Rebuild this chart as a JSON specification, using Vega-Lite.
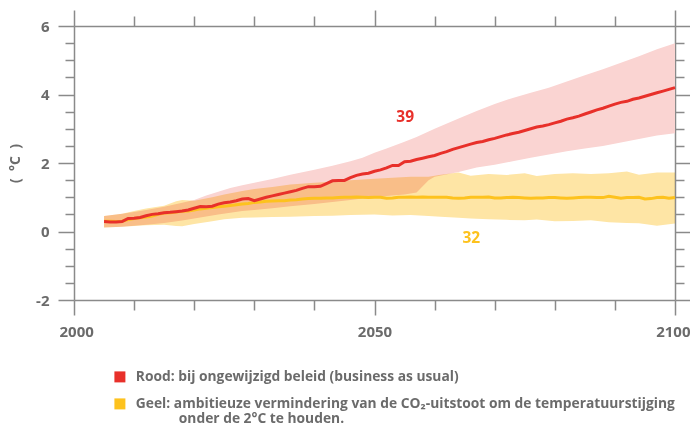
{
  "$schema": "https://vega.github.io/schema/vega-lite/v6.json",
  "width": 601,
  "height": 274,
  "autosize": "none",
  "padding": {"left": 74, "top": 26, "right": 15, "bottom": 125},
  "background": "white",
  "config": {
    "view": {"stroke": null},
    "font": "Open Sans",
    "axis": {
      "domainColor": "#8a8a8a", "domainWidth": 1.5,
      "tickColor": "#8a8a8a", "tickWidth": 1.5,
      "labelColor": "#6b6b6b", "labelFont": "Open Sans", "labelFontWeight": "bold", "labelFontSize": 15,
      "titleColor": "#6b6b6b", "titleFont": "Open Sans", "titleFontWeight": "bold", "titleFontSize": 14,
      "grid": false, "labelOverlap": false, "labelFlush": false
    }
  },
  "datasets": {
    "redLine": [
      {"year":2005,"temp":0.29,"series":"Rood"},{"year":2006,"temp":0.28,"series":"Rood"},{"year":2007,"temp":0.28,"series":"Rood"},{"year":2008,"temp":0.29,"series":"Rood"},
      {"year":2009,"temp":0.38,"series":"Rood"},{"year":2010,"temp":0.39,"series":"Rood"},{"year":2011,"temp":0.41,"series":"Rood"},{"year":2012,"temp":0.46,"series":"Rood"},
      {"year":2013,"temp":0.5,"series":"Rood"},{"year":2014,"temp":0.52,"series":"Rood"},{"year":2015,"temp":0.55,"series":"Rood"},{"year":2016,"temp":0.56,"series":"Rood"},
      {"year":2017,"temp":0.58,"series":"Rood"},{"year":2018,"temp":0.6,"series":"Rood"},{"year":2019,"temp":0.63,"series":"Rood"},{"year":2020,"temp":0.68,"series":"Rood"},
      {"year":2021,"temp":0.73,"series":"Rood"},{"year":2022,"temp":0.72,"series":"Rood"},{"year":2023,"temp":0.74,"series":"Rood"},{"year":2024,"temp":0.8,"series":"Rood"},
      {"year":2025,"temp":0.84,"series":"Rood"},{"year":2026,"temp":0.86,"series":"Rood"},{"year":2027,"temp":0.9,"series":"Rood"},{"year":2028,"temp":0.95,"series":"Rood"},
      {"year":2029,"temp":0.96,"series":"Rood"},{"year":2030,"temp":0.9,"series":"Rood"},{"year":2031,"temp":0.95,"series":"Rood"},{"year":2032,"temp":1.0,"series":"Rood"},
      {"year":2033,"temp":1.04,"series":"Rood"},{"year":2034,"temp":1.08,"series":"Rood"},{"year":2035,"temp":1.12,"series":"Rood"},{"year":2036,"temp":1.16,"series":"Rood"},
      {"year":2037,"temp":1.2,"series":"Rood"},{"year":2038,"temp":1.26,"series":"Rood"},{"year":2039,"temp":1.31,"series":"Rood"},{"year":2040,"temp":1.31,"series":"Rood"},
      {"year":2041,"temp":1.32,"series":"Rood"},{"year":2042,"temp":1.4,"series":"Rood"},{"year":2043,"temp":1.48,"series":"Rood"},{"year":2044,"temp":1.49,"series":"Rood"},
      {"year":2045,"temp":1.49,"series":"Rood"},{"year":2046,"temp":1.57,"series":"Rood"},{"year":2047,"temp":1.64,"series":"Rood"},{"year":2048,"temp":1.68,"series":"Rood"},
      {"year":2049,"temp":1.7,"series":"Rood"},{"year":2050,"temp":1.76,"series":"Rood"},{"year":2051,"temp":1.8,"series":"Rood"},{"year":2052,"temp":1.86,"series":"Rood"},
      {"year":2053,"temp":1.93,"series":"Rood"},{"year":2054,"temp":1.93,"series":"Rood"},{"year":2055,"temp":2.04,"series":"Rood"},{"year":2056,"temp":2.05,"series":"Rood"},
      {"year":2057,"temp":2.1,"series":"Rood"},{"year":2058,"temp":2.14,"series":"Rood"},{"year":2059,"temp":2.18,"series":"Rood"},{"year":2060,"temp":2.22,"series":"Rood"},
      {"year":2061,"temp":2.28,"series":"Rood"},{"year":2062,"temp":2.33,"series":"Rood"},{"year":2063,"temp":2.4,"series":"Rood"},{"year":2064,"temp":2.45,"series":"Rood"},
      {"year":2065,"temp":2.5,"series":"Rood"},{"year":2066,"temp":2.55,"series":"Rood"},{"year":2067,"temp":2.6,"series":"Rood"},{"year":2068,"temp":2.63,"series":"Rood"},
      {"year":2069,"temp":2.68,"series":"Rood"},{"year":2070,"temp":2.72,"series":"Rood"},{"year":2071,"temp":2.77,"series":"Rood"},{"year":2072,"temp":2.82,"series":"Rood"},
      {"year":2073,"temp":2.86,"series":"Rood"},{"year":2074,"temp":2.9,"series":"Rood"},{"year":2075,"temp":2.95,"series":"Rood"},{"year":2076,"temp":3.0,"series":"Rood"},
      {"year":2077,"temp":3.05,"series":"Rood"},{"year":2078,"temp":3.08,"series":"Rood"},{"year":2079,"temp":3.12,"series":"Rood"},{"year":2080,"temp":3.17,"series":"Rood"},
      {"year":2081,"temp":3.22,"series":"Rood"},{"year":2082,"temp":3.28,"series":"Rood"},{"year":2083,"temp":3.32,"series":"Rood"},{"year":2084,"temp":3.37,"series":"Rood"},
      {"year":2085,"temp":3.43,"series":"Rood"},{"year":2086,"temp":3.49,"series":"Rood"},{"year":2087,"temp":3.55,"series":"Rood"},{"year":2088,"temp":3.6,"series":"Rood"},
      {"year":2089,"temp":3.66,"series":"Rood"},{"year":2090,"temp":3.72,"series":"Rood"},{"year":2091,"temp":3.77,"series":"Rood"},{"year":2092,"temp":3.8,"series":"Rood"},
      {"year":2093,"temp":3.86,"series":"Rood"},{"year":2094,"temp":3.9,"series":"Rood"},{"year":2095,"temp":3.95,"series":"Rood"},{"year":2096,"temp":4.0,"series":"Rood"},
      {"year":2097,"temp":4.05,"series":"Rood"},{"year":2098,"temp":4.1,"series":"Rood"},{"year":2099,"temp":4.15,"series":"Rood"},{"year":2100,"temp":4.2,"series":"Rood"}
    ],
    "yellowLine": [
      {"year":2005,"temp":0.3,"series":"Geel"},{"year":2006,"temp":0.3,"series":"Geel"},{"year":2007,"temp":0.29,"series":"Geel"},{"year":2008,"temp":0.3,"series":"Geel"},
      {"year":2009,"temp":0.35,"series":"Geel"},{"year":2010,"temp":0.38,"series":"Geel"},{"year":2011,"temp":0.4,"series":"Geel"},{"year":2012,"temp":0.42,"series":"Geel"},
      {"year":2013,"temp":0.45,"series":"Geel"},{"year":2014,"temp":0.5,"series":"Geel"},{"year":2015,"temp":0.54,"series":"Geel"},{"year":2016,"temp":0.55,"series":"Geel"},
      {"year":2017,"temp":0.57,"series":"Geel"},{"year":2018,"temp":0.59,"series":"Geel"},{"year":2019,"temp":0.6,"series":"Geel"},{"year":2020,"temp":0.63,"series":"Geel"},
      {"year":2021,"temp":0.66,"series":"Geel"},{"year":2022,"temp":0.68,"series":"Geel"},{"year":2023,"temp":0.7,"series":"Geel"},{"year":2024,"temp":0.72,"series":"Geel"},
      {"year":2025,"temp":0.74,"series":"Geel"},{"year":2026,"temp":0.76,"series":"Geel"},{"year":2027,"temp":0.78,"series":"Geel"},{"year":2028,"temp":0.8,"series":"Geel"},
      {"year":2029,"temp":0.82,"series":"Geel"},{"year":2030,"temp":0.85,"series":"Geel"},{"year":2031,"temp":0.86,"series":"Geel"},{"year":2032,"temp":0.88,"series":"Geel"},
      {"year":2033,"temp":0.89,"series":"Geel"},{"year":2034,"temp":0.9,"series":"Geel"},{"year":2035,"temp":0.9,"series":"Geel"},{"year":2036,"temp":0.92,"series":"Geel"},
      {"year":2037,"temp":0.93,"series":"Geel"},{"year":2038,"temp":0.95,"series":"Geel"},{"year":2039,"temp":0.96,"series":"Geel"},{"year":2040,"temp":0.97,"series":"Geel"},
      {"year":2041,"temp":0.97,"series":"Geel"},{"year":2042,"temp":0.98,"series":"Geel"},{"year":2043,"temp":0.98,"series":"Geel"},{"year":2044,"temp":0.99,"series":"Geel"},
      {"year":2045,"temp":1.0,"series":"Geel"},{"year":2046,"temp":1.0,"series":"Geel"},{"year":2047,"temp":1.01,"series":"Geel"},{"year":2048,"temp":1.0,"series":"Geel"},
      {"year":2049,"temp":0.99,"series":"Geel"},{"year":2050,"temp":1.0,"series":"Geel"},{"year":2051,"temp":1.0,"series":"Geel"},{"year":2052,"temp":0.97,"series":"Geel"},
      {"year":2053,"temp":0.98,"series":"Geel"},{"year":2054,"temp":1.0,"series":"Geel"},{"year":2055,"temp":1.0,"series":"Geel"},{"year":2056,"temp":1.01,"series":"Geel"},
      {"year":2057,"temp":1.0,"series":"Geel"},{"year":2058,"temp":1.01,"series":"Geel"},{"year":2059,"temp":1.0,"series":"Geel"},{"year":2060,"temp":1.0,"series":"Geel"},
      {"year":2061,"temp":1.0,"series":"Geel"},{"year":2062,"temp":1.0,"series":"Geel"},{"year":2063,"temp":0.98,"series":"Geel"},{"year":2064,"temp":0.97,"series":"Geel"},
      {"year":2065,"temp":0.98,"series":"Geel"},{"year":2066,"temp":1.0,"series":"Geel"},{"year":2067,"temp":1.0,"series":"Geel"},{"year":2068,"temp":1.0,"series":"Geel"},
      {"year":2069,"temp":1.01,"series":"Geel"},{"year":2070,"temp":0.98,"series":"Geel"},{"year":2071,"temp":0.98,"series":"Geel"},{"year":2072,"temp":0.99,"series":"Geel"},
      {"year":2073,"temp":1.0,"series":"Geel"},{"year":2074,"temp":0.99,"series":"Geel"},{"year":2075,"temp":0.98,"series":"Geel"},{"year":2076,"temp":0.97,"series":"Geel"},
      {"year":2077,"temp":0.98,"series":"Geel"},{"year":2078,"temp":0.98,"series":"Geel"},{"year":2079,"temp":0.99,"series":"Geel"},{"year":2080,"temp":0.99,"series":"Geel"},
      {"year":2081,"temp":0.98,"series":"Geel"},{"year":2082,"temp":0.97,"series":"Geel"},{"year":2083,"temp":0.98,"series":"Geel"},{"year":2084,"temp":0.99,"series":"Geel"},
      {"year":2085,"temp":1.0,"series":"Geel"},{"year":2086,"temp":1.0,"series":"Geel"},{"year":2087,"temp":0.99,"series":"Geel"},{"year":2088,"temp":0.99,"series":"Geel"},
      {"year":2089,"temp":1.03,"series":"Geel"},{"year":2090,"temp":1.0,"series":"Geel"},{"year":2091,"temp":0.97,"series":"Geel"},{"year":2092,"temp":0.99,"series":"Geel"},
      {"year":2093,"temp":0.99,"series":"Geel"},{"year":2094,"temp":1.0,"series":"Geel"},{"year":2095,"temp":0.95,"series":"Geel"},{"year":2096,"temp":0.96,"series":"Geel"},
      {"year":2097,"temp":0.99,"series":"Geel"},{"year":2098,"temp":1.0,"series":"Geel"},{"year":2099,"temp":0.97,"series":"Geel"},{"year":2100,"temp":0.99,"series":"Geel"}
    ],
    "redBand": [
      {"year":2005,"lo":0.12,"hi":0.45},{"year":2008,"lo":0.14,"hi":0.52},{"year":2010,"lo":0.17,"hi":0.57},{"year":2012,"lo":0.2,"hi":0.63},
      {"year":2015,"lo":0.25,"hi":0.72},{"year":2018,"lo":0.32,"hi":0.84},{"year":2020,"lo":0.38,"hi":0.92},{"year":2022,"lo":0.44,"hi":1.05},
      {"year":2024,"lo":0.5,"hi":1.16},{"year":2026,"lo":0.55,"hi":1.27},{"year":2028,"lo":0.6,"hi":1.35},{"year":2030,"lo":0.63,"hi":1.42},
      {"year":2033,"lo":0.68,"hi":1.53},{"year":2036,"lo":0.74,"hi":1.66},{"year":2040,"lo":0.8,"hi":1.8},{"year":2043,"lo":0.86,"hi":1.92},
      {"year":2046,"lo":0.92,"hi":2.05},{"year":2048,"lo":0.96,"hi":2.15},{"year":2050,"lo":1.0,"hi":2.3},{"year":2052,"lo":1.04,"hi":2.42},
      {"year":2055,"lo":1.08,"hi":2.62},{"year":2057,"lo":1.14,"hi":2.76},{"year":2059,"lo":1.5,"hi":2.92},{"year":2060,"lo":1.6,"hi":3.0},
      {"year":2064,"lo":1.74,"hi":3.3},{"year":2067,"lo":1.87,"hi":3.52},
      {"year":2070,"lo":1.95,"hi":3.72},{"year":2073,"lo":2.05,"hi":3.9},{"year":2076,"lo":2.15,"hi":4.05},{"year":2079,"lo":2.25,"hi":4.2},
      {"year":2082,"lo":2.34,"hi":4.38},{"year":2085,"lo":2.42,"hi":4.56},{"year":2088,"lo":2.5,"hi":4.74},{"year":2091,"lo":2.6,"hi":4.93},
      {"year":2094,"lo":2.7,"hi":5.12},{"year":2097,"lo":2.8,"hi":5.32},{"year":2100,"lo":2.87,"hi":5.5}
    ],
    "yellowBand": [
      {"year":2005,"lo":0.12,"hi":0.45},{"year":2008,"lo":0.14,"hi":0.52},{"year":2010,"lo":0.16,"hi":0.6},{"year":2012,"lo":0.18,"hi":0.67},
      {"year":2015,"lo":0.2,"hi":0.75},{"year":2017,"lo":0.16,"hi":0.88},{"year":2018,"lo":0.15,"hi":0.92},{"year":2020,"lo":0.22,"hi":0.9},
      {"year":2023,"lo":0.3,"hi":1.0},{"year":2025,"lo":0.36,"hi":1.08},{"year":2028,"lo":0.4,"hi":1.18},{"year":2030,"lo":0.41,"hi":1.24},
      {"year":2033,"lo":0.42,"hi":1.3},{"year":2036,"lo":0.43,"hi":1.37},{"year":2040,"lo":0.45,"hi":1.42},{"year":2043,"lo":0.46,"hi":1.45},
      {"year":2046,"lo":0.48,"hi":1.5},{"year":2050,"lo":0.5,"hi":1.54},{"year":2053,"lo":0.47,"hi":1.57},{"year":2056,"lo":0.48,"hi":1.6},
      {"year":2059,"lo":0.45,"hi":1.6},{"year":2061,"lo":0.43,"hi":1.66},{"year":2064,"lo":0.4,"hi":1.72},{"year":2066,"lo":0.38,"hi":1.63},
      {"year":2069,"lo":0.36,"hi":1.68},{"year":2072,"lo":0.34,"hi":1.65},{"year":2075,"lo":0.33,"hi":1.7},{"year":2077,"lo":0.35,"hi":1.62},
      {"year":2080,"lo":0.3,"hi":1.68},{"year":2083,"lo":0.31,"hi":1.7},{"year":2086,"lo":0.33,"hi":1.68},{"year":2089,"lo":0.27,"hi":1.7},
      {"year":2092,"lo":0.25,"hi":1.75},{"year":2094,"lo":0.24,"hi":1.66},{"year":2097,"lo":0.17,"hi":1.72},{"year":2100,"lo":0.23,"hi":1.72}
    ],
    "labels": [
      {"year":2055.1,"temp":3.33,"label":"39","series":"Rood"},
      {"year":2066.1,"temp":-0.2,"label":"32","series":"Geel"}
    ]
  },
  "layer": [
    {
      "data": {"name": "redBand"},
      "mark": {"type": "area", "color": "#fad4d2", "opacity": 1},
      "encoding": {
        "x": {"field": "year", "type": "quantitative", "scale": {"domain": [2000, 2100], "nice": false},
          "axis": {"orient": "bottom", "title": null, "values": [2000,2010,2020,2030,2040,2050,2060,2070,2080,2090,2100],
            "format": "d", "labelExpr": "datum.value % 50 === 0 ? datum.label : ''",
            "labelFlush": true, "labelFlushOffset": 15,
            "tickSize": {"condition": {"test": "datum.value % 50 === 0", "value": 15}, "value": 10},
            "labelPadding": 9}},
        "y": {"field": "hi", "type": "quantitative", "scale": {"domain": [-2, 6], "nice": false},
          "axis": {"orient": "left", "title": "(\u00a0\u00a0°C\u00a0\u00a0)", "titlePadding": 13,
            "values": [-2,-1.5,-1,-0.5,0,0.5,1,1.5,2,2.5,3,3.5,4,4.5,5,5.5,6],
            "labelExpr": "datum.value % 2 === 0 ? '' + datum.value : ''",
            "tickSize": {"condition": {"test": "datum.value % 2 === 0", "value": 16}, "value": 9},
            "labelPadding": 9}},
        "y2": {"field": "lo"}
      }
    },
    {
      "data": {"name": "yellowBand"},
      "mark": {"type": "area", "color": "#fee5a5", "opacity": 1, "blend": "multiply"},
      "encoding": {
        "x": {"field": "year", "type": "quantitative",
          "axis": {"orient": "top", "title": null, "labels": false, "values": [2000,2010,2020,2030,2040,2050,2060,2070,2080,2090,2100],
            "tickSize": {"condition": {"test": "datum.value % 50 === 0", "value": 16}, "value": 10}}},
        "y": {"field": "hi", "type": "quantitative",
          "axis": {"orient": "right", "title": null, "labels": false,
            "values": [-2,-1.5,-1,-0.5,0,0.5,1,1.5,2,2.5,3,3.5,4,4.5,5,5.5,6],
            "tickSize": {"condition": {"test": "datum.value % 2 === 0", "value": 15}, "value": 9}}},
        "y2": {"field": "lo"}
      }
    },
    {
      "data": {"name": "yellowLine"},
      "mark": {"type": "line", "strokeWidth": 3},
      "encoding": {
        "x": {"field": "year", "type": "quantitative", "axis": null},
        "y": {"field": "temp", "type": "quantitative", "axis": null},
        "color": {"field": "series", "type": "nominal",
          "scale": {"domain": ["Rood", "Geel"], "range": ["#e8302a", "#fdc21e"]},
          "legend": {
            "orient": "none", "legendX": 39, "legendY": 344, "title": null, "padding": 0,
            "symbolType": "square", "symbolSize": 121, "symbolStrokeWidth": 0,
            "labelFont": "Open Sans", "labelFontWeight": "bold", "labelFontSize": 13.8, "labelColor": "#6b6b6b",
            "labelLimit": 0, "labelOffset": 9, "rowPadding": 12, "labelBaseline": "top",
            "labelExpr": "datum.label == 'Rood' ? 'Rood: bij ongewijzigd beleid (business as usual)' : ['Geel: ambitieuze vermindering van de CO₂-uitstoot om de temperatuurstijging', '\u200b\u00a0\u00a0\u00a0\u00a0\u00a0\u00a0\u00a0\u00a0\u00a0\u00a0\u00a0\u00a0onder de 2°C te houden.']",
            "encode": {
              "symbols": {"update": {"fill": {"scale": "color", "field": "value"}, "stroke": {"value": "transparent"}, "opacity": {"value": 1}}},
              "labels": {"update": {"dy": {"value": -7}, "lineHeight": {"value": 15}}}
            }
          }
        }
      }
    },
    {
      "data": {"name": "redLine"},
      "mark": {"type": "line", "strokeWidth": 3},
      "encoding": {
        "x": {"field": "year", "type": "quantitative", "axis": null},
        "y": {"field": "temp", "type": "quantitative", "axis": null},
        "color": {"field": "series", "type": "nominal"}
      }
    },
    {
      "data": {"name": "labels"},
      "mark": {"type": "text", "font": "Open Sans", "fontWeight": "bold", "fontSize": 15.5, "align": "center", "baseline": "middle"},
      "encoding": {
        "x": {"field": "year", "type": "quantitative", "axis": null},
        "y": {"field": "temp", "type": "quantitative", "axis": null},
        "text": {"field": "label"},
        "color": {"field": "series", "type": "nominal", "legend": null}
      }
    }
  ],
  "resolve": {"axis": {"x": "independent", "y": "independent"}}
}
